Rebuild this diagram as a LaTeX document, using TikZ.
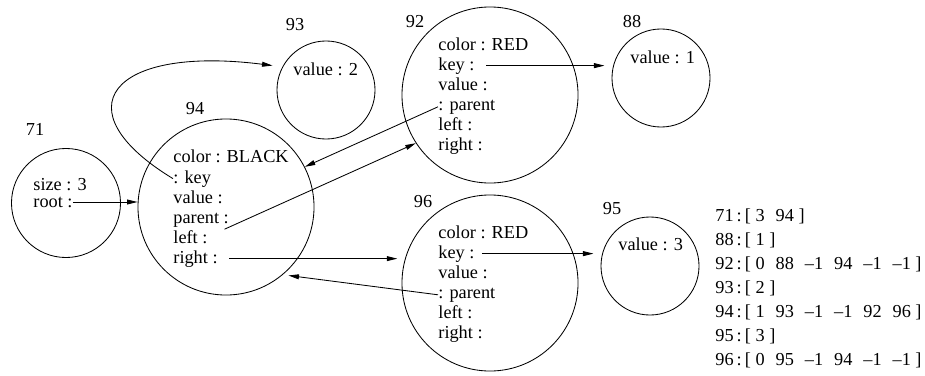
\documentclass[tikz,border=0pt]{standalone}
\usepackage{fontspec}
\setmainfont{Liberation Serif}
\usetikzlibrary{arrows.meta,positioning}

\newcommand{\gap}{\hspace{0.6em}}

\tikzset{
  obj/.style={draw, circle, inner sep=0pt},
  big/.style={obj, minimum size=4.4cm},
  small/.style={obj, minimum size=2.45cm},
  field/.style={anchor=base west, inner sep=0pt},
  tag/.style={inner sep=0pt},
  ptr/.style={-{Triangle[length=7.5pt,width=3.5pt]}},
}

\begin{document}
\begin{tikzpicture}[x=0.025cm, y=-0.025cm, line width=0.6pt, font=\fontsize{13}{15}\selectfont]
    \useasboundingbox (0,0) rectangle (925,375);

    % Objects
    \node [obj, minimum size=2.725cm] (n71) at (66,203) {};
    \node [big] (n94) at (226,207) {};
    \node [small] (n93) at (326,90) {};
    \node [big] (n92) at (490,95) {};
    \node [small] (n88) at (661,78) {};
    \node [big] (n96) at (490,283) {};
    \node [small] (n95) at (650,266) {};

    % Object ids
    \node [tag] (t71) at (35,129) {71};
    \node [tag] (t94) at (195,109) {94};
    \node [tag] (t93) at (295,25) {93};
    \node [tag] (t92) at (415,22) {92};
    \node [tag] (t88) at (632,22) {88};
    \node [tag] (t96) at (423,202) {96};
    \node [tag] (t95) at (612,209) {95};

    % Fields of 71
    \node [field] (n71-size) at (33,190) {size : 3};
    \node [field] (n71-root) at (33,207) {root :};

    % Fields of 94
    \node [field] (n94-color) at (173,162) {color : BLACK};
    \node [field] (n94-key) at (173,183) {: key};
    \node [field] (n94-value) at (173,203) {value :};
    \node [field] (n94-parent) at (173,223) {parent :};
    \node [field] (n94-left) at (173,243) {left :};
    \node [field] (n94-right) at (173,263) {right :};

    % Fields of 93, 88, 95
    \node [field] (n93-value) at (293,75) {value : 2};
    \node [field] (n88-value) at (630,63) {value : 1};
    \node [field] (n95-value) at (618,250) {value : 3};

    % Fields of 92
    \node [field] (n92-color) at (438,50) {color : RED};
    \node [field] (n92-key) at (438,70) {key :};
    \node [field] (n92-value) at (438,90) {value :};
    \node [field] (n92-parent) at (438,110) {: parent};
    \node [field] (n92-left) at (438,130) {left :};
    \node [field] (n92-right) at (438,150) {right :};

    % Fields of 96
    \node [field] (n96-color) at (438,238) {color : RED};
    \node [field] (n96-key) at (438,258) {key :};
    \node [field] (n96-value) at (438,278) {value :};
    \node [field] (n96-parent) at (438,298) {: parent};
    \node [field] (n96-left) at (438,318) {left :};
    \node [field] (n96-right) at (438,338) {right :};

    % Pointers
    \draw [ptr] (n71-root.east) -- (n71-root.east -| n94.west);
    \draw [ptr, shorten >=7pt] (n94-key.west) .. controls (60,110) and (110,45) .. (n93.152);
    \draw [ptr] (n92-parent.west) -- (n94.27);
    \draw [ptr, shorten <=13pt] (n94-left.east) -- (n92.213);
    \draw [ptr, shorten <=8pt, shorten >=3pt] (n94-right.east) -- (n94-right.east -| n96.west);
    \draw [ptr, shorten >=4pt] (n96-parent.west) -- (n94.-50);
    \draw [ptr, shorten <=8pt, shorten >=5pt] (n92-key.east) -- (n92-key.east -| n88.west);
    \draw [ptr, shorten <=5pt, shorten >=5pt] (n96-key.east) -- (n96-key.east -| n95.west);

    % Heap listing
    \node [field] (l71) at (715,221) {71\,:\,[ 3\gap 94 ]};
    \node [field] (l88) at (715,245) {88\,:\,[ 1 ]};
    \node [field] (l92) at (715,269) {92\,:\,[ 0\gap 88\gap --1\gap 94\gap --1\gap --1 ]};
    \node [field] (l93) at (715,293) {93\,:\,[ 2 ]};
    \node [field] (l94) at (715,317) {94\,:\,[ 1\gap 93\gap --1\gap --1\gap 92\gap 96 ]};
    \node [field] (l95) at (715,341) {95\,:\,[ 3 ]};
    \node [field] (l96) at (715,365) {96\,:\,[ 0\gap 95\gap --1\gap 94\gap --1\gap --1 ]};
\end{tikzpicture}
\end{document}
